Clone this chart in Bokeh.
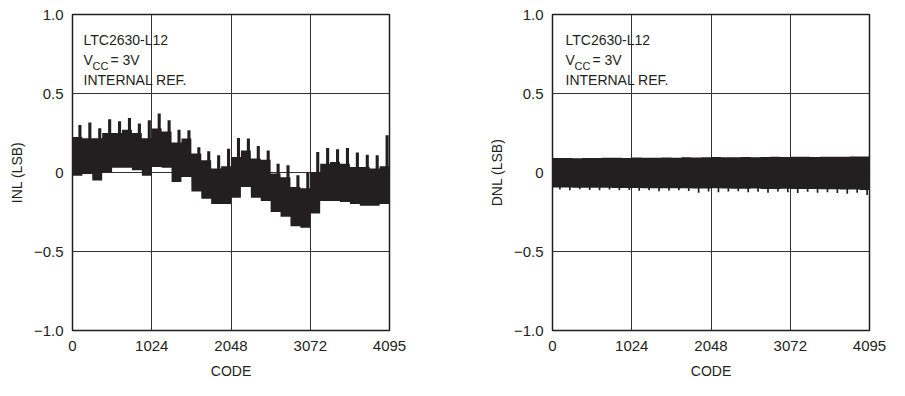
from bokeh.plotting import figure
from bokeh.layouts import row
from bokeh.models import FixedTicker, Range1d, ColumnDataSource
from bokeh.core.properties import value
from bokeh.embed import file_html
from bokeh.resources import INLINE

# ---------------- data ----------------
x_ticks = [0, 1024, 2048, 3072, 4095]
y_ticks = [-1, -0.5, 0, 0.5, 1]
y_tick_labels = {-1: "\u22121.0", -0.5: "\u22120.5", 0: "0", 0.5: "0.5", 1: "1.0"}

period = 128            # codes per repeating segment
spike_phase = 96        # code offset of the tall spike inside each segment

# INL: per 128-code segment -> spike top, band top, band bottom (LSB)
inl_spike = [0.30, 0.316, 0.28, 0.337, 0.324, 0.345, 0.31, 0.33,
             0.373, 0.33, 0.27, 0.267, 0.16, 0.134, 0.109, 0.151,
             0.219, 0.215, 0.168, 0.14, 0.056, 0.046, -0.018, 0.003,
             0.13, 0.155, 0.147, 0.155, 0.126, 0.113, 0.109, 0.236]
inl_upper = [0.225, 0.217, 0.217, 0.25, 0.25, 0.27, 0.25, 0.217,
             0.278, 0.26, 0.19, 0.215, 0.12, 0.077, 0.025, 0.04,
             0.098, 0.14, 0.088, 0.08, -0.007, -0.03, -0.092, -0.1,
             0.003, 0.056, 0.066, 0.056, 0.035, 0.035, 0.025, 0.04]
inl_lower = [-0.02, -0.01, -0.05, 0.0, 0.03, 0.03, 0.014, -0.02,
             0.035, 0.03, -0.06, -0.028, -0.12, -0.166, -0.2, -0.2,
             -0.16, -0.092, -0.16, -0.18, -0.25, -0.28, -0.34, -0.35,
             -0.26, -0.18, -0.18, -0.187, -0.2, -0.21, -0.21, -0.2]

# DNL: per 128-code segment -> band top, band bottom, downward dip (LSB)
dnl_upper = [0.092, 0.091, 0.09, 0.092, 0.091, 0.093, 0.094, 0.092,
             0.095, 0.094, 0.093, 0.095, 0.094, 0.096, 0.095, 0.097,
             0.098, 0.096, 0.097, 0.098, 0.097, 0.098, 0.099, 0.098,
             0.1, 0.099, 0.098, 0.1, 0.099, 0.1, 0.101, 0.102]
dnl_lower = [-0.095, -0.095, -0.096, -0.096, -0.097, -0.097, -0.098, -0.098,
             -0.098, -0.1, -0.1, -0.1, -0.1, -0.1, -0.102, -0.102,
             -0.1, -0.102, -0.103, -0.103, -0.102, -0.104, -0.104, -0.103,
             -0.105, -0.105, -0.104, -0.106, -0.106, -0.108, -0.108, -0.11]
dnl_dip = [-0.108, -0.112, -0.106, -0.11, -0.112, -0.108, -0.113, -0.11,
           -0.115, -0.112, -0.118, -0.114, -0.112, -0.117, -0.128, -0.12,
           -0.125, -0.12, -0.118, -0.125, -0.122, -0.128, -0.12, -0.125,
           -0.13, -0.122, -0.128, -0.125, -0.13, -0.135, -0.128, -0.142]

TXT = "#231f20"
FONT = "Liberation Sans"


def band_source(upper, lower):
    xs, up, lo = [], [], []
    n = len(upper)
    for k in range(n):
        start = k * period
        end = min(start + period - 1, 4095)
        xs += [start, end]
        up += [upper[k], upper[k]]
        lo += [lower[k], lower[k]]
    return ColumnDataSource(dict(x=xs, top=up, bottom=lo))


def make_fig(width, b_left, b_right, ylabel):
    p = figure(width=width, height=390,
               x_range=Range1d(0, 4095), y_range=Range1d(-1, 1),
               output_backend="svg", toolbar_location=None,
               min_border_left=b_left, min_border_right=b_right,
               min_border_top=14, min_border_bottom=60)
    p.background_fill_color = "white"
    p.border_fill_color = "white"
    p.outline_line_color = TXT
    p.outline_line_width = 1.5
    p.outline_line_alpha = 1.0

    p.xaxis.ticker = FixedTicker(ticks=x_ticks)
    p.yaxis.ticker = FixedTicker(ticks=y_ticks)
    p.yaxis.major_label_overrides = y_tick_labels
    for ax in (p.xaxis, p.yaxis):
        ax.axis_line_color = None
        ax.major_tick_line_color = None
        ax.minor_tick_line_color = None
        ax.major_tick_in = 0
        ax.major_tick_out = 0
        ax.major_label_text_font = FONT
        ax.major_label_text_font_size = "15px"
        ax.major_label_text_color = TXT
        ax.axis_label_text_font = FONT
        ax.axis_label_text_font_size = "14px"
        ax.axis_label_text_font_style = "normal"
        ax.axis_label_text_color = TXT
    p.xaxis.major_label_standoff = 10
    p.yaxis.major_label_standoff = 9
    p.xaxis.axis_label = "CODE"
    p.xaxis.axis_label_standoff = 9
    p.yaxis.axis_label = ylabel
    p.yaxis.axis_label_standoff = 6

    p.grid.grid_line_color = "#333333"
    p.grid.grid_line_width = 1
    p.grid.grid_line_alpha = 1.0
    return p


def add_note(p, xoff):
    kw = dict(text_font=value(FONT), text_color=TXT, text_baseline="alphabetic",
              text_align="left", x_offset=xoff)
    p.text(x=[0], y=[0.84], text=["LTC2630-L12"], text_font_size="14px", **kw)
    p.text(x=[0], y=[0.713], text=["V"], text_font_size="14px", **kw)
    kw2 = dict(kw)
    kw2["x_offset"] = xoff + 9
    p.text(x=[0], y=[0.677], text=["CC"], text_font_size="11px", **kw2)
    kw3 = dict(kw)
    kw3["x_offset"] = xoff + 27
    p.text(x=[0], y=[0.713], text=["= 3V"], text_font_size="14px", **kw3)
    p.text(x=[0], y=[0.587], text=["INTERNAL REF."], text_font_size="14px", **kw)


# ---------------- INL panel ----------------
p1 = make_fig(480, 72, 91, "INL (LSB)")
s1 = band_source(inl_upper, inl_lower)
p1.varea(x="x", y1="bottom", y2="top", source=s1, fill_color="#231f20")
spike_x = [spike_phase + k * period for k in range(len(inl_spike))]
p1.vbar(x=spike_x, width=40, top=inl_spike,
        bottom=[u - 0.03 for u in inl_upper], fill_color="#231f20", line_color=None)
add_note(p1, 11)

# ---------------- DNL panel ----------------
p2 = make_fig(425, 72, 36, "DNL (LSB)")
s2 = band_source(dnl_upper, dnl_lower)
p2.varea(x="x", y1="bottom", y2="top", source=s2, fill_color="#231f20")
dip_x = [spike_phase + k * period for k in range(len(dnl_dip))]
p2.vbar(x=dip_x, width=22, top=[l + 0.01 for l in dnl_lower], bottom=dnl_dip,
        fill_color="#231f20", line_color=None)
add_note(p2, 13)

layout = row(p1, p2)
open("out.html", "w").write(file_html(layout, INLINE))
